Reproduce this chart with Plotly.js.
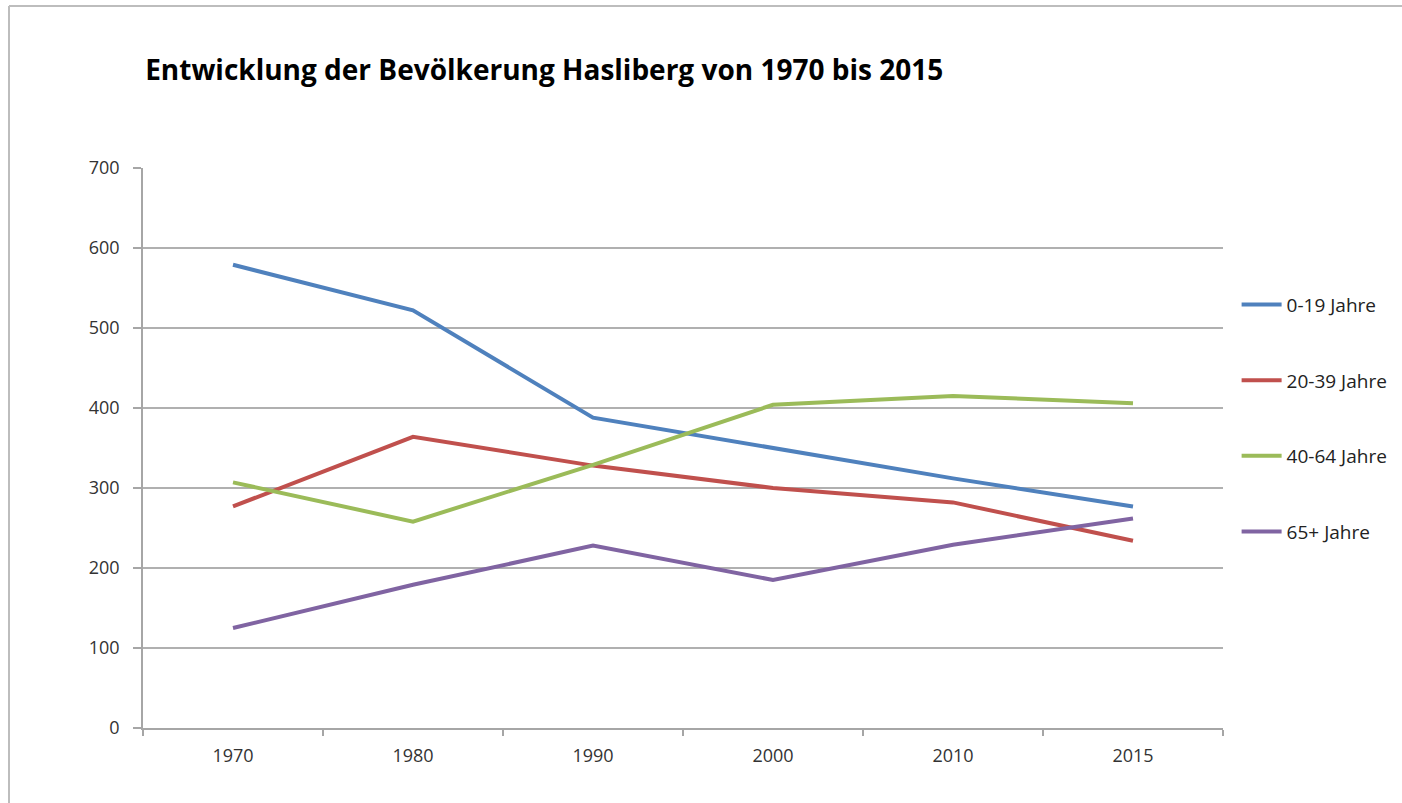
<!DOCTYPE html>
<html>
<head>
<meta charset="utf-8">
<script src="https://cdn.plot.ly/plotly-3.0.1.min.js"></script>
<style>html,body{margin:0;padding:0;background:#fff;}#chart{width:1402px;height:803px;}</style>
</head>
<body>
<div id="chart"></div>
<script>
const years = ["1970", "1980", "1990", "2000", "2010", "2015"];
const seriesNames = ["0-19 Jahre", "20-39 Jahre", "40-64 Jahre", "65+ Jahre"];
const age0_19 = [579, 522, 388, 350, 312, 277];
const age20_39 = [277, 364, 328, 300, 282, 234];
const age40_64 = [307, 258, 329, 404, 415, 406];
const age65plus = [125, 179, 228, 185, 229, 262];
const yTicks = [0, 100, 200, 300, 400, 500, 600, 700];

const colors = ["#4f81bd", "#c0504d", "#9bbb59", "#8064a2"];
const allValues = [age0_19, age20_39, age40_64, age65plus];

const traces = allValues.map((vals, i) => ({
  type: "scatter",
  mode: "lines",
  x: years,
  y: vals,
  name: seriesNames[i],
  legendgroup: "g" + i,
  line: {color: colors[i], width: 4},
  hoverinfo: "x+y+name"
}));

const layout = {
  width: 1402,
  height: 803,
  paper_bgcolor: "#ffffff",
  plot_bgcolor: "#ffffff",
  margin: {l: 143, r: 179, t: 168, b: 75, autoexpand: false},
  title: {
    text: "<b>Entwicklung der Bevölkerung Hasliberg von 1970 bis 2015</b>",
    font: {family: "'Open Sans', sans-serif", size: 28, color: "#000000"},
    xref: "paper", x: 0.002, xanchor: "left",
    yref: "container", y: 1 - 70/803, yanchor: "middle"
  },
  xaxis: {
    type: "category",
    range: [-0.5, 5.5],
    showgrid: false,
    showline: true,
    linecolor: "#a6a6a6",
    linewidth: 1.5,
    ticks: "outside",
    tickson: "boundaries",
    ticklen: 6,
    tickcolor: "#a6a6a6",
    tickwidth: 1.5,
    tickfont: {family: "'Open Sans', sans-serif", size: 18, color: "#333333"},
    ticklabelstandoff: 11,
    zeroline: false,
    fixedrange: true
  },
  yaxis: {
    range: [0, 700],
    tickvals: yTicks,
    ticktext: yTicks.map(String),
    showgrid: true,
    gridcolor: "#b0b0b0",
    gridwidth: 1.5,
    showline: true,
    linecolor: "#a6a6a6",
    linewidth: 1.5,
    ticks: "outside",
    ticklen: 8,
    tickcolor: "#a6a6a6",
    tickwidth: 1.5,
    tickfont: {family: "'Open Sans', sans-serif", size: 18, color: "#333333"},
    ticklabelstandoff: 10,
    zeroline: false,
    fixedrange: true
  },
  legend: {
    x: 1.0126, xanchor: "left",
    y: 0.79, yanchor: "top",
    font: {family: "'Open Sans', sans-serif", size: 19, color: "#222222"},
    tracegroupgap: 48,
    bgcolor: "rgba(0,0,0,0)",
    itemwidth: 40
  },
  shapes: [
    {type: "line", xref: "paper", yref: "paper",
     x0: (9 - 143)/1080, x1: (1402 - 143)/1080,
     y0: (728 - 6)/560, y1: (728 - 6)/560,
     line: {color: "#bdbdbd", width: 2}},
    {type: "line", xref: "paper", yref: "paper",
     x0: (9 - 143)/1080, x1: (9 - 143)/1080,
     y0: (728 - 6)/560, y1: (728 - 803)/560,
     line: {color: "#bdbdbd", width: 2}}
  ],
  showlegend: true
};

Plotly.newPlot("chart", traces, layout, {displayModeBar: false});
</script>
</body>
</html>
